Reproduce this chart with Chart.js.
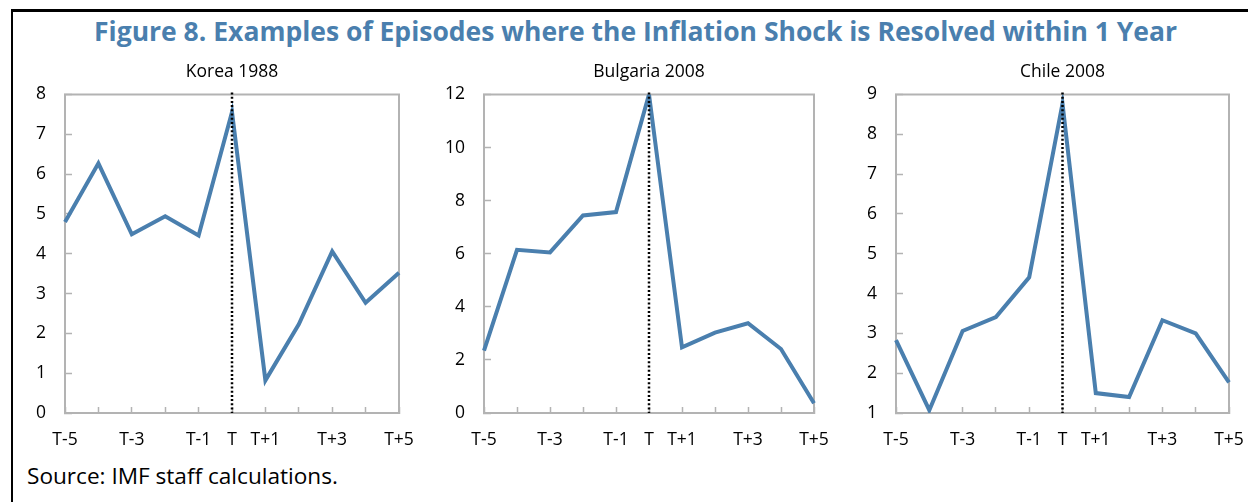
<!DOCTYPE html>
<html><head><meta charset="utf-8">
<script src="https://cdn.jsdelivr.net/npm/chart.js@4.4.0/dist/chart.umd.min.js"></script>
<style>
html,body{margin:0;padding:0;width:1248px;height:502px;overflow:hidden;background:#fff;}
#frame{position:absolute;left:11px;top:9px;width:1300px;height:600px;border-top:3px solid #000;border-left:2.5px solid #000;}
#title{position:absolute;left:0;width:1271px;top:13px;text-align:center;font:bold 26.5px 'Open Sans';color:#4a7fae;white-space:nowrap;line-height:36px}
.p{position:absolute;top:58px;height:395px}
#source{position:absolute;left:27px;top:462px;font:22.6px 'Open Sans';color:#000;line-height:28px;white-space:nowrap}
</style></head>
<body>
<div id="frame"></div>
<div id="title">Figure 8. Examples of Episodes where the Inflation Shock is Resolved within 1 Year</div>
<div class="p" style="left:0;width:464px"><canvas id="c1"></canvas></div>
<div class="p" style="left:424px;width:450px"><canvas id="c2"></canvas></div>
<div class="p" style="left:836px;width:453px"><canvas id="c3"></canvas></div>
<div id="source">Source: IMF staff calculations.</div>
<script>
const categories = ['T-5','T-4','T-3','T-2','T-1','T','T+1','T+2','T+3','T+4','T+5'];
const xTickLabels = ['T-5','','T-3','','T-1','T','T+1','','T+3','','T+5'];
const koreaValues = [4.8, 6.27, 4.49, 4.94, 4.46, 7.56, 0.82, 2.23, 4.06, 2.77, 3.52];
const bulgariaValues = [2.35, 6.15, 6.05, 7.44, 7.57, 12.0, 2.47, 3.03, 3.38, 2.41, 0.37];
const chileValues = [2.83, 1.07, 3.06, 3.41, 4.41, 8.77, 1.5, 1.4, 3.33, 3.0, 1.77];
const panelTitles = ['Korea 1988', 'Bulgaria 2008', 'Chile 2008'];
const yRanges = [{min:0,max:8,step:1},{min:0,max:12,step:2},{min:1,max:9,step:1}];
const shockLabel = 'T';

const BLUE = '#4a7fae';
const GRAY = '#b3b3b3';
const FONT = "'Open Sans'";

const framePlugin = {
  id: 'frameAndShock',
  beforeDatasetsDraw(chart) {
    const {ctx, chartArea: a} = chart;
    ctx.save();
    ctx.strokeStyle = GRAY; ctx.lineWidth = 2;
    ctx.strokeRect(a.left, a.top, a.right - a.left, a.bottom - a.top);
    ctx.restore();
  },
  afterDatasetsDraw(chart) {
    const {ctx, chartArea: a} = chart;
    const x = chart.scales.x.getPixelForValue(categories.indexOf(shockLabel));
    ctx.save();
    ctx.strokeStyle = '#000'; ctx.lineWidth = 2.5;
    ctx.setLineDash([2, 2.2]);
    ctx.beginPath(); ctx.moveTo(x, a.top - 2); ctx.lineTo(x, a.bottom); ctx.stroke();
    ctx.restore();
  }
};

function makeChart(id, title, values, yr, yWidth) {
  new Chart(document.getElementById(id), {
    type: 'line',
    data: { labels: categories, datasets: [{ data: values, borderColor: BLUE, borderWidth: 4, pointRadius: 0, tension: 0, fill: false, yAxisID: 'y' }] },
    options: {
      responsive: true, maintainAspectRatio: false, animation: false,
      layout: { padding: 0 },
      plugins: {
        legend: { display: false }, tooltip: { enabled: false },
        title: { display: true, text: title, color: '#000', font: { family: FONT, size: 17.5, weight: 'normal' }, padding: { top: 2, bottom: 12 } }
      },
      scales: {
        x: {
          offset: false,
          grid: { drawOnChartArea: false, drawTicks: true, tickLength: -6, tickColor: GRAY, tickWidth: 1.5, offset: false },
          border: { color: GRAY, width: 2 },
          ticks: { autoSkip: false, maxRotation: 0, padding: 23, color: '#000', font: { family: FONT, size: 17.5 }, callback: (v, i) => xTickLabels[i] },
          afterFit(s) { s.height = 40; }
        },
        y: {
          position: 'left',
          min: yr.min, max: yr.max,
          grid: { drawOnChartArea: false, drawTicks: true, tickLength: -7, tickColor: GRAY, tickWidth: 1.5 },
          border: { color: GRAY, width: 2 },
          ticks: { stepSize: yr.step, padding: 26, color: '#000', font: { family: FONT, size: 17.5 } },
          afterFit(s) { s.width = yWidth; }
        },
        yBalance: {
          position: 'right', min: yr.min, max: yr.max,
          grid: { display: false }, border: { display: false }, ticks: { display: false },
          afterFit(s) { s.width = yWidth; }
        }
      }
    },
    plugins: [framePlugin]
  });
}
makeChart('c1', panelTitles[0], koreaValues, yRanges[0], 65);
makeChart('c2', panelTitles[1], bulgariaValues, yRanges[1], 60);
makeChart('c3', panelTitles[2], chileValues, yRanges[2], 60);
</script>
</body></html>
